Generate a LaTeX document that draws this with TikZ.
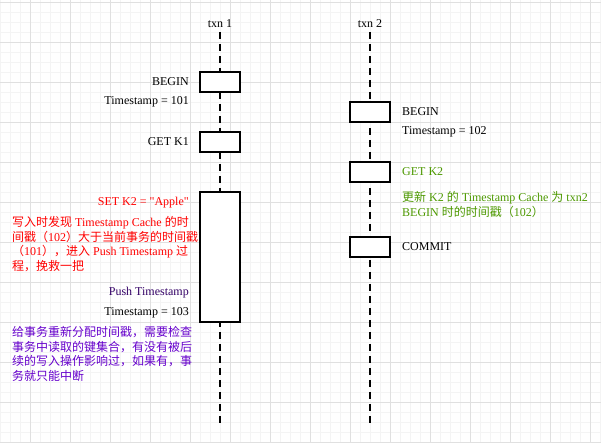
\documentclass[tikz,border=0pt]{standalone}
\usepackage{fontspec}
\setmainfont{Liberation Serif}
\newfontfamily\rawserif{Liberation Serif}[Ligatures=TeXOff]
\newfontfamily\cjk{Noto Sans CJK SC}
\definecolor{gridminor}{HTML}{F4F4F4}
\definecolor{gridmajor}{HTML}{E0E0E0}
\definecolor{redtxt}{HTML}{FF0000}
\definecolor{greentxt}{HTML}{4D9900}
\definecolor{purpletxt}{HTML}{6600CC}
\definecolor{pushtxt}{HTML}{330066}
\begin{document}
\begin{tikzpicture}[x=1pt,y=-1pt,
  every node/.style={font=\fontsize{12}{14.5}\selectfont, inner sep=0pt},
  lifeline/.style={line width=2.3pt, dash pattern=on 6.5pt off 5.5pt},
  actbox/.style={draw=black, fill=white, line width=1.2pt},
  lbl/.style={anchor=east},
  rlbl/.style={anchor=west},
  para/.style={anchor=north west, align=left}
]
\useasboundingbox (0,0) rectangle (601,442);
\fill[white] (0,0) rectangle (601,442);
% grid
\foreach \x in {0,10,...,600} \draw[gridminor, line width=0.8pt] (\x,0) -- (\x,442);
\foreach \y in {2,12,...,442} \draw[gridminor, line width=0.8pt] (0,\y) -- (601,\y);
\foreach \x in {30,70,...,590} \draw[gridmajor, line width=0.8pt] (\x,0) -- (\x,442);
\foreach \y in {2,42,...,442} \draw[gridmajor, line width=0.8pt] (0,\y) -- (601,\y);

% headers
\node (h1) at (220,24) {txn 1};
\node (h2) at (370,24) {txn 2};
\coordinate (s1) at (220,32);
\coordinate (s2) at (370,32);
\coordinate (e1) at (220,424);
\coordinate (e2) at (370,424);
\draw[lifeline] (s1) -- (e1);
\draw[lifeline] (s2) -- (e2);

% txn1 boxes
\draw[actbox] (200,72) rectangle (240,92) coordinate (b1);
\draw[actbox] (200,132) rectangle (240,152) coordinate (b2);
\draw[actbox] (200,192) rectangle (240,322) coordinate (b3);
% txn2 boxes
\draw[actbox] (350,102) rectangle (390,122) coordinate (c1);
\draw[actbox] (350,162) rectangle (390,182) coordinate (c2);
\draw[actbox] (350,237) rectangle (390,257) coordinate (c3);

% txn1 labels
\node[lbl] (l1) at (189,82) {BEGIN};
\node[lbl] (l2) at (189,102) {Timestamp = 101};
\node[lbl] (l3) at (189,142) {GET K1};
\node[lbl, text=redtxt] (l4) at (189,203) {\rawserif SET K2 = "Apple"};
\node[para, text=redtxt] (l5) at (12,216.5) {{\cjk 写入时发现} Timestamp Cache {\cjk 的时}\\
{\cjk 间戳（}102{\cjk ）大于当前事务的时间戳}\\
{\cjk （}101{\cjk ），进入} Push Timestamp {\cjk 过}\\
{\cjk 程，挽救一把}};
\node[lbl, text=pushtxt] (l6) at (189,293) {Push Timestamp};
\node[lbl] (l7) at (189,313) {Timestamp = 103};
\node[para, text=purpletxt] (l8) at (12,326.5) {{\cjk 给事务重新分配时间戳，需要检查}\\
{\cjk 事务中读取的键集合，有没有被后}\\
{\cjk 续的写入操作影响过，如果有，事}\\
{\cjk 务就只能中断}};

% txn2 labels
\node[rlbl] (r1) at (402,112) {BEGIN};
\node[rlbl] (r2) at (402,132) {Timestamp = 102};
\node[rlbl, text=greentxt] (r3) at (402,172) {GET K2};
\node[para, text=greentxt] (r4) at (402,191.5) {{\cjk 更新} K2 {\cjk 的} Timestamp Cache {\cjk 为} txn2\\
BEGIN {\cjk 时的时间戳（}102{\cjk ）}};
\node[rlbl] (r5) at (402,247) {COMMIT};
\end{tikzpicture}
\end{document}
